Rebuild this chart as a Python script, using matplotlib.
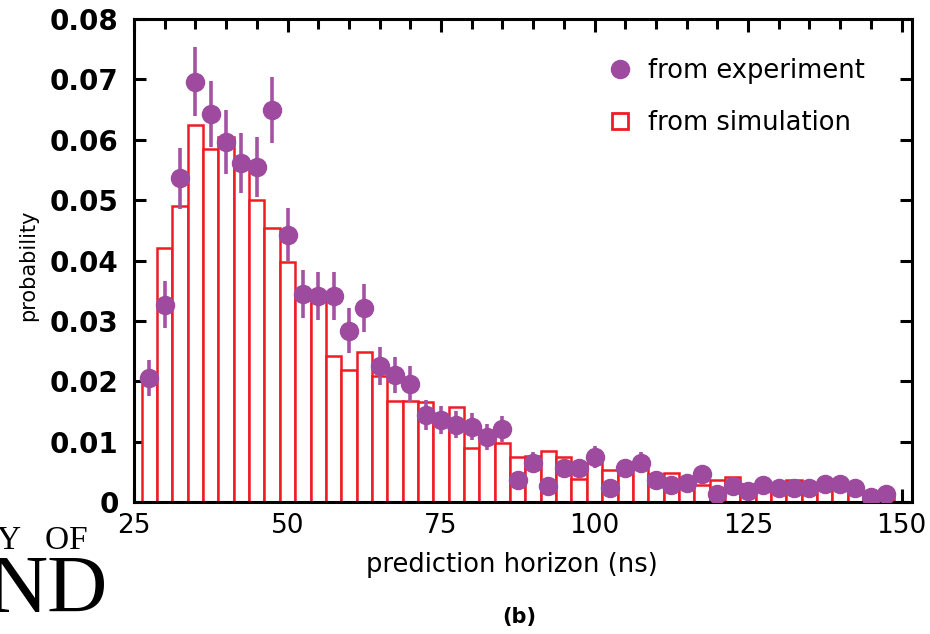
import matplotlib
matplotlib.use("Agg")
import matplotlib.pyplot as plt
from matplotlib.lines import Line2D

# bin centres (ns)
centers = [27.5, 30.0, 32.5, 35.0, 37.5, 40.0, 42.5, 45.0, 47.5, 50.0,
           52.5, 55.0, 57.5, 60.0, 62.5, 65.0, 67.5, 70.0, 72.5, 75.0,
           77.5, 80.0, 82.5, 85.0, 87.5, 90.0, 92.5, 95.0, 97.5, 100.0,
           102.5, 105.0, 107.5, 110.0, 112.5, 115.0, 117.5, 120.0, 122.5, 125.0,
           127.5, 130.0, 132.5, 135.0, 137.5, 140.0, 142.5, 145.0, 147.5]

# simulation histogram
sim = [0.0210, 0.0420, 0.0490, 0.0624, 0.0584, 0.0605, 0.0565, 0.0501, 0.0454, 0.0397,
       0.0340, 0.0335, 0.0242, 0.0219, 0.0248, 0.0208, 0.0168, 0.0168, 0.0166, 0.0140,
       0.0157, 0.0089, 0.0105, 0.0097, 0.0075, 0.0077, 0.0085, 0.0075, 0.0038, 0.0065,
       0.0053, 0.0050, 0.0055, 0.0047, 0.0048, 0.0025, 0.0028, 0.0037, 0.0041, 0.0030,
       0.0025, 0.0028, 0.0036, 0.0028, 0.0032, 0.0030, 0.0022, 0.0012, 0.0010]

# experiment points
exp_vals = [0.0205, 0.0327, 0.0536, 0.0696, 0.0643, 0.0597, 0.0561, 0.0555, 0.0649, 0.0443,
            0.0345, 0.0341, 0.0341, 0.0284, 0.0321, 0.0225, 0.0211, 0.0196, 0.0144, 0.0136,
            0.0128, 0.0125, 0.0108, 0.0121, 0.0037, 0.0065, 0.0027, 0.0056, 0.0056, 0.0075,
            0.0024, 0.0056, 0.0065, 0.0037, 0.0028, 0.0032, 0.0046, 0.0013, 0.0027, 0.0019,
            0.0028, 0.0024, 0.0024, 0.0023, 0.0030, 0.0030, 0.0023, 0.0008, 0.0014]

exp_err = [0.0030, 0.0039, 0.0050, 0.0057, 0.0055, 0.0053, 0.0050, 0.0050, 0.0055, 0.0044,
           0.0040, 0.0040, 0.0040, 0.0037, 0.0040, 0.0032, 0.0030, 0.0030, 0.0025, 0.0023,
           0.0022, 0.0022, 0.0022, 0.0022, 0.0015, 0.0017, 0.0013, 0.0016, 0.0016, 0.0018,
           0.0012, 0.0016, 0.0017, 0.0013, 0.0012, 0.0013, 0.0015, 0.0008, 0.0012, 0.0010,
           0.0012, 0.0011, 0.0011, 0.0011, 0.0012, 0.0012, 0.0011, 0.0007, 0.0009]

xticks = [25, 50, 75, 100, 125, 150]
yticks = [0, 0.01, 0.02, 0.03, 0.04, 0.05, 0.06, 0.07, 0.08]
ytick_labels = ["0", "0.01", "0.02", "0.03", "0.04", "0.05", "0.06", "0.07", "0.08"]

purple = "#9e4a9e"
red = "#ee1c25"

fig = plt.figure(figsize=(9.30, 6.34), dpi=100)
ax = fig.add_axes([0.1441, 0.2082, 0.8365, 0.7618])

ax.bar(centers, sim, width=2.5, facecolor="white", edgecolor=red,
       linewidth=1.8, zorder=2)
ax.errorbar(centers, exp_vals, yerr=exp_err, fmt="o", color=purple,
            ecolor="#a552a5", ms=13, elinewidth=2.6, capsize=0, zorder=3)

ax.set_xlim(25, 151.7)
ax.set_ylim(0, 0.08)
ax.set_xticks(xticks)
ax.set_xticks(range(30, 151, 5), minor=True)
ax.set_yticks(yticks)
ax.set_yticklabels(ytick_labels)
ax.tick_params(axis="both", which="both", direction="in", top=True, right=True, width=2.2)
ax.tick_params(axis="x", which="major", length=9.5, labelsize=19, pad=8)
ax.tick_params(axis="x", which="minor", length=7)
ax.tick_params(axis="y", which="major", length=8.5, labelsize=20, pad=11)
for lab in ax.get_yticklabels():
    lab.set_fontweight("bold")
for sp in ax.spines.values():
    sp.set_linewidth(2.2)

fig.text(512 / 930, 1 - 565 / 634, "prediction horizon (ns)", ha="center", va="center", fontsize=18.5)
fig.text(28 / 930, 1 - 265 / 634, "probability", ha="center", va="center", rotation=90, fontsize=15)
fig.text(519 / 930, 1 - 617 / 634, "(b)", ha="center", va="center", fontsize=15, fontweight="bold")

handles = [Line2D([], [], marker="o", ls="none", color=purple, ms=13),
           Line2D([], [], marker="s", ls="none", mfc="white", mec=red, mew=2, ms=11)]
ax.legend(handles, ["from experiment", "from simulation"], loc="upper left",
          bbox_to_anchor=(607 / 930, 1 - 58 / 634), bbox_transform=fig.transFigure,
          frameon=False, fontsize=18.5, handlelength=1.0, handletextpad=0.6,
          labelspacing=1.0, borderpad=0, borderaxespad=0)

# cropped logo fragment at bottom-left
fig.text(-3 / 930, 1 - 541 / 634, "Y   OF", ha="left", va="center", fontsize=24,
         family="Liberation Serif")
fig.text(-12 / 930, 1 - 592 / 634, "ND", ha="left", va="center", fontsize=60,
         family="Liberation Serif")

fig.savefig("out.png", dpi=100)
